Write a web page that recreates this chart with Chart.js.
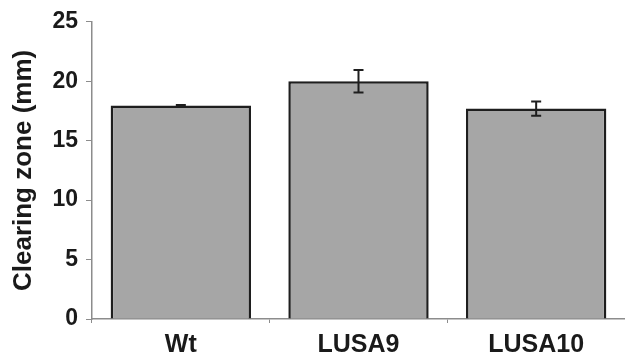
<!DOCTYPE html>
<html>
<head>
<meta charset="utf-8">
<script src="https://cdn.jsdelivr.net/npm/chart.js@4"></script>
<style>
  html, body { margin: 0; padding: 0; background: #fff; }
  #wrap { width: 625px; height: 362px; }
</style>
</head>
<body>
<div id="wrap"><canvas id="chartZona"></canvas></div>
<script>
// datos
const categorias = ['Wt', 'LUSA9', 'LUSA10'];
const valores = [17.95, 20.0, 17.7];
const errores = [0.05, 0.95, 0.6];
const yTicks = [0, 5, 10, 15, 20, 25];

const fuente = 'Liberation Sans, Arial, Helvetica, sans-serif';
const gris = '#8c8c8c';

// barras de error dibujadas con las escalas del grafico
const errorBars = {
    id: 'errorBars',
    afterDatasetsDraw(chart) {
        const ctx = chart.ctx;
        const y = chart.scales.y;
        const meta = chart.getDatasetMeta(0);
        ctx.save();
        ctx.strokeStyle = '#1e1e1e';
        ctx.lineWidth = 2;
        meta.data.forEach((bar, i) => {
            const top = y.getPixelForValue(valores[i] + errores[i]);
            const bot = y.getPixelForValue(valores[i] - errores[i]);
            ctx.beginPath();
            ctx.moveTo(bar.x, top);
            ctx.lineTo(bar.x, bot);
            ctx.moveTo(bar.x - 5, top);
            ctx.lineTo(bar.x + 5, top);
            ctx.moveTo(bar.x - 5, bot);
            ctx.lineTo(bar.x + 5, bot);
            ctx.stroke();
        });
        ctx.restore();
    }
};

const ctx = document.getElementById('chartZona').getContext('2d');
new Chart(ctx, {
    type: 'bar',
    data: {
        labels: categorias,
        datasets: [{
            data: valores,
            backgroundColor: '#a6a6a6',
            borderColor: '#1e1e1e',
            borderWidth: 2.5,
            borderSkipped: 'bottom',
            categoryPercentage: 1,
            barPercentage: 0.79
        }]
    },
    options: {
        responsive: true,
        maintainAspectRatio: false,
        animation: false,
        layout: { padding: { top: 20, right: 0, left: 0, bottom: 0 } },
        plugins: {
            legend: { display: false },
            tooltip: { enabled: false }
        },
        scales: {
            x: {
                grid: {
                    offset: true,
                    drawOnChartArea: false,
                    drawTicks: true,
                    tickLength: 4,
                    color: gris
                },
                border: { color: gris, width: 1.5 },
                ticks: {
                    color: '#1a1a1a',
                    padding: 7,
                    font: { family: fuente, size: 25, weight: 'bold' }
                },
                afterFit: function(scale) { scale.height = 43; }
            },
            y: {
                min: 0,
                max: 25,
                afterBuildTicks: function(scale) {
                    scale.ticks = yTicks.map(v => ({ value: v }));
                },
                grid: {
                    drawOnChartArea: false,
                    drawTicks: true,
                    tickLength: 6,
                    color: gris
                },
                border: { color: gris, width: 1.5 },
                ticks: {
                    color: '#1a1a1a',
                    padding: 8,
                    font: { family: fuente, size: 23, weight: 'bold' }
                },
                title: {
                    display: true,
                    text: 'Clearing zone (mm)',
                    color: '#1a1a1a',
                    padding: { top: 8, bottom: 0 },
                    font: { family: fuente, size: 26, weight: 'bold' }
                },
                afterFit: function(scale) { scale.width = 92; }
            }
        }
    },
    plugins: [errorBars]
});
</script>
</body>
</html>
